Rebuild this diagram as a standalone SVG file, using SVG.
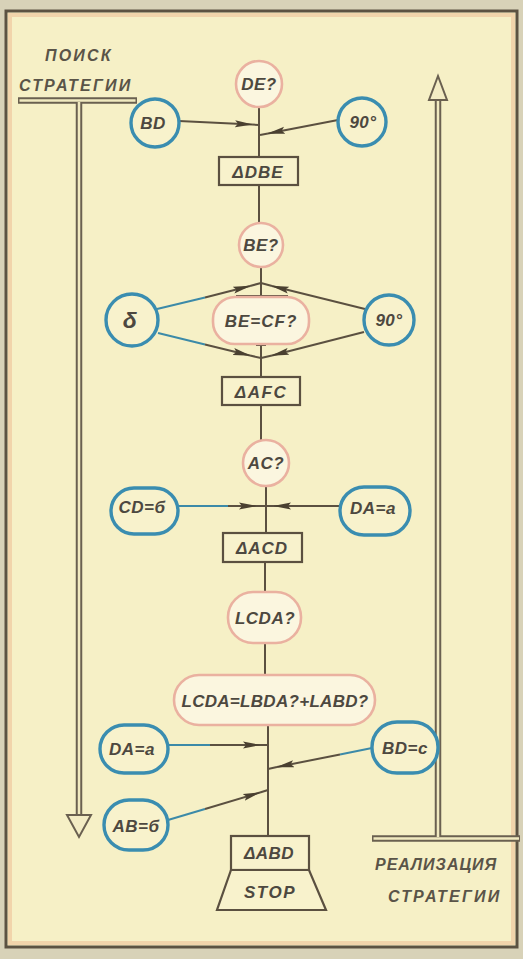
<svg xmlns="http://www.w3.org/2000/svg" width="523" height="959" viewBox="0 0 523 959">
  <style>
    .t { font-family: "Liberation Sans", Arial, sans-serif; font-weight: bold; font-style: italic; fill: #4d4840; text-anchor: middle; font-size: 17px; letter-spacing: 0.5px; }
    .cap { font-family: "Liberation Sans", Arial, sans-serif; font-weight: bold; font-style: italic; fill: #5a5448; font-size: 16px; letter-spacing: 2.2px; }
    .ln { stroke: #5b5040; stroke-width: 2; fill: none; }
    .lnb { stroke: #3c8aa8; stroke-width: 2; fill: none; }
    .given { fill: #f8f2cc; stroke: #3a8db0; stroke-width: 3.4; }
    .goal { fill: #fbf6df; stroke: #eab1a0; stroke-width: 2.6; }
    .box { fill: #f8f2cc; stroke: #5b5040; stroke-width: 2.2; }
    .dbl { stroke: #6a6050; stroke-width: 6.5; fill: none; }
    .dblin { stroke: #f1eac0; stroke-width: 2.5; fill: none; }
    .head { fill: #f3ecc4; stroke: #6a6050; stroke-width: 2; stroke-linejoin: miter; }
  </style>
  <defs>
    <marker id="dart" viewBox="0 0 18 8" refX="17" refY="4" markerWidth="18" markerHeight="8" markerUnits="userSpaceOnUse" orient="auto">
      <path d="M0,0.5 L18,4 L0,7.5 L3,4 Z" fill="#4a4030"/>
    </marker>
  </defs>

  <!-- sheet and frame -->
  <rect x="0" y="0" width="523" height="959" fill="#d8d2b8"/>
  <rect x="6" y="11" width="511" height="936" fill="#f6f0c6" stroke="#5c5242" stroke-width="3"/>
  <rect x="10" y="15" width="503" height="928" fill="none" stroke="#f0c8a0" stroke-width="4" opacity="0.7"/>

  <!-- strategy arrows -->
  <g id="search">
    <path class="dbl" d="M18,100.5 H137 M79,100.5 V817"/>
    <path class="dblin" d="M19.5,100.5 H135.5 M79,102 V818"/>
    <polygon class="head" points="67,815 91,815 79,837"/>
    <text class="cap" x="45" y="61">ПОИСК</text>
    <text class="cap" x="19" y="91">СТРАТЕГИИ</text>
  </g>
  <g id="realize">
    <path class="dbl" d="M438,100 V838.5 M372,838.5 H520"/>
    <path class="dblin" d="M438,99 V837 M373.5,838.5 H519"/>
    <polygon class="head" points="429,100 447,100 438,76"/>
    <text class="cap" x="375" y="870" style="letter-spacing:1px">РЕАЛИЗАЦИЯ</text>
    <text class="cap" x="388" y="902">СТРАТЕГИИ</text>
  </g>

  <!-- connectors -->
  <g id="connectors">
    <!-- DE? chain -->
    <path class="ln" d="M259,107 V157"/>
    <path class="ln" d="M179,121 L252,124.5" marker-end="url(#dart)"/>
    <path class="ln" d="M252,124.5 L259,125"/>
    <path class="ln" d="M338,120 L268,133.5" marker-end="url(#dart)"/>
    <path class="ln" d="M268,133.5 L260,135"/>
    <path class="ln" d="M259,185 V222"/>
    <!-- BE? chain -->
    <path class="ln" d="M261,267 V296"/>
    <path class="ln" d="M236,296 H288"/>
    <path class="lnb" d="M157,309 L205,297.5"/>
    <path class="ln" d="M205,297.5 L250,286" marker-end="url(#dart)"/>
    <path class="ln" d="M250,286 L261,283"/>
    <path class="ln" d="M365,309 L272,286" marker-end="url(#dart)"/>
    <path class="ln" d="M272,286 L261,283"/>
    <path class="ln" d="M261,344 V377"/>
    <path class="ln" d="M256,345 H266"/>
    <path class="lnb" d="M158,333 L205,344.5"/>
    <path class="ln" d="M205,344.5 L250,355.5" marker-end="url(#dart)"/>
    <path class="ln" d="M250,355.5 L261,358"/>
    <path class="ln" d="M364,332 L272,355.5" marker-end="url(#dart)"/>
    <path class="ln" d="M272,355.5 L261,358"/>
    <path class="ln" d="M261,405 V440"/>
    <!-- AC? chain -->
    <path class="ln" d="M266,486 V533"/>
    <path class="lnb" d="M178,506 H228"/>
    <path class="ln" d="M228,506 H256" marker-end="url(#dart)"/>
    <path class="ln" d="M256,506 H266"/>
    <path class="ln" d="M340,506 H274" marker-end="url(#dart)"/>
    <path class="ln" d="M274,506 H266"/>
    <path class="ln" d="M265,562 V592"/>
    <path class="ln" d="M265,643 V675"/>
    <!-- angle chain -->
    <path class="ln" d="M268,725 V836"/>
    <path class="lnb" d="M168,745 H210"/>
    <path class="ln" d="M210,745 H260" marker-end="url(#dart)"/>
    <path class="ln" d="M260,745 H268"/>
    <path class="lnb" d="M372,748 L340,754.5"/>
    <path class="ln" d="M340,754.5 L277,767" marker-end="url(#dart)"/>
    <path class="ln" d="M277,767 L268,769"/>
    <path class="lnb" d="M168,820 L205,809"/>
    <path class="ln" d="M205,809 L260,792.5" marker-end="url(#dart)"/>
    <path class="ln" d="M260,792.5 L268,790"/>
  </g>

  <!-- goals and givens -->
  <g id="n-de"><circle class="goal" cx="259" cy="84" r="23"/><text class="t" x="259" y="90">DE?</text></g>
  <g id="n-bd1"><circle class="given" cx="155" cy="123" r="24"/><text class="t" x="153" y="129">BD</text></g>
  <g id="n-90a"><circle class="given" cx="362" cy="122" r="24"/><text class="t" x="363" y="128">90°</text></g>
  <g id="n-dbe"><rect class="box" x="219" y="157" width="79" height="28"/><text class="t" x="258" y="178" style="letter-spacing:1px">ΔDBE</text></g>

  <g id="n-be"><circle class="goal" cx="261" cy="245" r="22"/><text class="t" x="261" y="251">BE?</text></g>
  <g id="n-delta"><circle class="given" cx="132" cy="320" r="26"/><text class="t" x="130" y="328" style="font-size:23px">δ</text></g>
  <g id="n-90b"><circle class="given" cx="389" cy="320" r="25"/><text class="t" x="389" y="326">90°</text></g>
  <g id="n-becf"><rect class="goal" x="213" y="297" width="96" height="47" rx="22"/><text class="t" x="261" y="327" style="letter-spacing:1px">BE=CF?</text></g>
  <g id="n-afc"><rect class="box" x="222" y="377" width="78" height="28"/><text class="t" x="261" y="398" style="letter-spacing:1.5px">ΔAFC</text></g>

  <g id="n-ac"><circle class="goal" cx="266" cy="463" r="23"/><text class="t" x="266" y="469">AC?</text></g>
  <g id="n-cd"><rect class="given" x="111" y="488" width="67" height="46" rx="23"/><text class="t" x="142" y="513">CD=б</text></g>
  <g id="n-da1"><rect class="given" x="340" y="487" width="70" height="48" rx="24"/><text class="t" x="373" y="514">DA=a</text></g>
  <g id="n-acd"><rect class="box" x="223" y="533" width="79" height="29"/><text class="t" x="262" y="554" style="letter-spacing:1px">ΔACD</text></g>

  <g id="n-lcda"><rect class="goal" x="228" y="592" width="73" height="51" rx="25"/><text class="t" x="265" y="624">LCDA?</text></g>
  <g id="n-sum"><rect class="goal" x="174" y="675" width="201" height="50" rx="25"/><text class="t" x="275" y="707" style="letter-spacing:0.3px">LCDA=LBDA?+LABD?</text></g>

  <g id="n-da2"><rect class="given" x="100" y="725" width="68" height="48" rx="24"/><text class="t" x="132" y="755">DA=a</text></g>
  <g id="n-bdc"><rect class="given" x="372" y="722" width="66" height="51" rx="25"/><text class="t" x="405" y="754">BD=c</text></g>
  <g id="n-ab"><rect class="given" x="104" y="800" width="64" height="50" rx="25"/><text class="t" x="136" y="832">AB=б</text></g>

  <g id="n-abd"><rect class="box" x="231" y="836" width="78" height="34"/><text class="t" x="269" y="859">ΔABD</text></g>
  <g id="n-stop"><polygon class="box" points="231,870 309,870 326,910 217,910"/><text class="t" x="270" y="898" style="letter-spacing:1.5px">STOP</text></g>
</svg>
